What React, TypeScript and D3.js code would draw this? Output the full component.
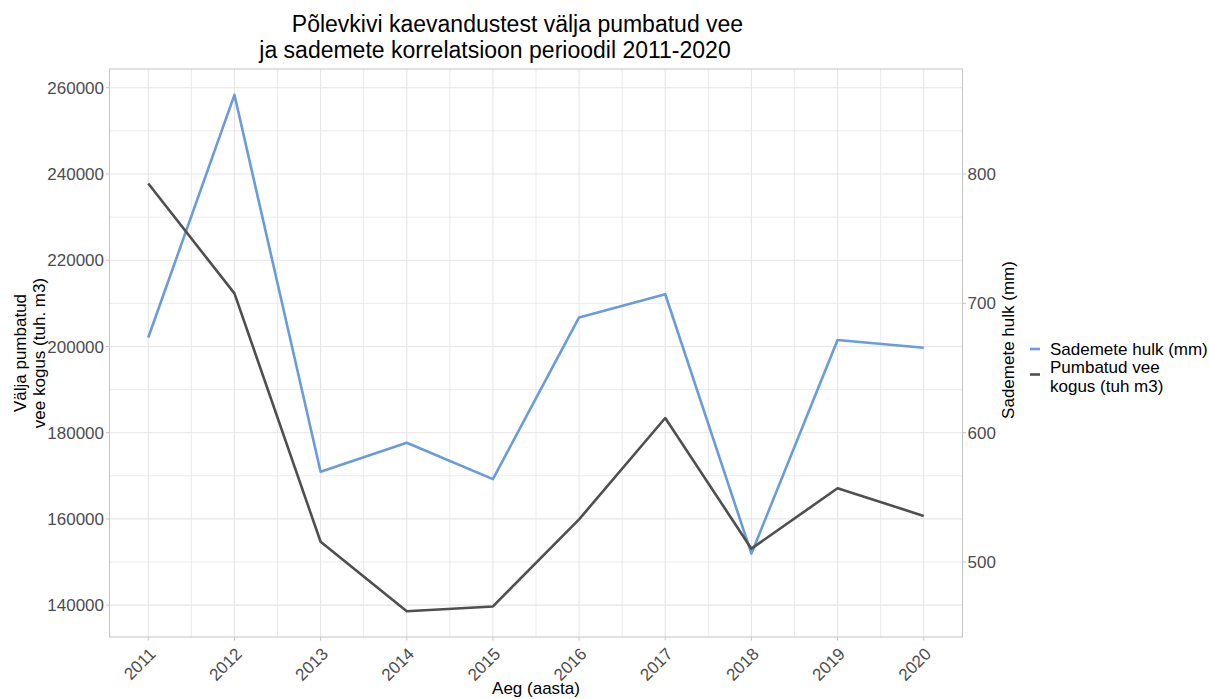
import React from "react";
import * as d3 from "d3";

const years: number[] = [2011, 2012, 2013, 2014, 2015, 2016, 2017, 2018, 2019, 2020];
const waterPumped: number[] = [237800, 212300, 154700, 138600, 139700, 159900, 183400, 153100, 167100, 160700];
const precipitation: number[] = [673.6, 861.2, 569.8, 592.2, 564.1, 689.1, 707.0, 506.5, 671.6, 665.7];
const leftTicks: number[] = [140000, 160000, 180000, 200000, 220000, 240000, 260000];
const rightTicks: number[] = [500, 600, 700, 800];
const secScale = 300;

const titleLines = ["Põlevkivi kaevandustest välja pumbatud vee", "ja sademete korrelatsioon perioodil 2011-2020"];
const legendLabels = ["Sademete hulk (mm)", "Pumbatud vee", "kogus (tuh m3)"];

const W = 1209;
const H = 699;
const M = { left: 109.5, right: 962.5, top: 69, bottom: 637 };
const FONT = "'Liberation Sans', Arial, sans-serif";
const BLUE = "#6a9bdb";
const DARK = "#4f4f4f";
const GRID = "#e6e6e6";
const BORDER = "#c4c4c4";

export default function App() {
  const x = d3
    .scaleLinear()
    .domain([years[0] - 0.45, years[years.length - 1] + 0.45])
    .range([M.left, M.right]);

  const all = [...waterPumped, ...precipitation.map((v) => v * secScale)];
  const [mn, mx] = d3.extent(all) as [number, number];
  const pad = (mx - mn) * 0.05;
  const y = d3.scaleLinear().domain([mn - pad, mx + pad]).range([M.bottom, M.top]);

  const majorY = leftTicks;
  const minorY: number[] = [];
  for (let v = 130000; v <= 270000; v += 20000) {
    if (v > y.domain()[0] && v < y.domain()[1]) minorY.push(v);
  }
  const minorX = years.slice(0, -1).map((yr) => yr + 0.5);

  const line = d3
    .line<number>()
    .x((_, i) => x(years[i]))
    .y((d) => y(d));

  const blueData = precipitation.map((v) => v * secScale);

  return (
    <div style={{ position: "absolute", left: 0, top: 0 }}>
      <svg width={W} height={H} style={{ display: "block", background: "#fff" }} fontFamily={FONT}>
        {/* Title */}
        <text x={517.5} y={31.5} textAnchor="middle" fontSize={23} fill="#000">
          {titleLines[0]}
        </text>
        <text x={495} y={57.5} textAnchor="middle" fontSize={23} fill="#000">
          {titleLines[1]}
        </text>

        {/* Minor grid */}
        {minorY.map((v) => (
          <line key={"my" + v} x1={M.left} x2={M.right} y1={y(v)} y2={y(v)} stroke={GRID} strokeWidth={0.8} />
        ))}
        {minorX.map((v) => (
          <line key={"mx" + v} x1={x(v)} x2={x(v)} y1={M.top} y2={M.bottom} stroke={GRID} strokeWidth={0.8} />
        ))}
        {/* Major grid */}
        {majorY.map((v) => (
          <line key={"gy" + v} x1={M.left} x2={M.right} y1={y(v)} y2={y(v)} stroke={GRID} strokeWidth={1.1} />
        ))}
        {years.map((v) => (
          <line key={"gx" + v} x1={x(v)} x2={x(v)} y1={M.top} y2={M.bottom} stroke={GRID} strokeWidth={1.1} />
        ))}

        {/* Lines */}
        <path d={line(blueData) || ""} fill="none" stroke={BLUE} strokeWidth={2.6} strokeLinejoin="round" />
        <path d={line(waterPumped) || ""} fill="none" stroke={DARK} strokeWidth={2.6} strokeLinejoin="round" />

        {/* Panel border */}
        <rect x={M.left} y={M.top} width={M.right - M.left} height={M.bottom - M.top} fill="none" stroke={BORDER} strokeWidth={1} />

        {/* Left axis */}
        {leftTicks.map((v) => (
          <g key={"lt" + v}>
            <line x1={M.left - 3.5} x2={M.left} y1={y(v)} y2={y(v)} stroke={BORDER} strokeWidth={1} />
            <text x={M.left - 5.5} y={y(v)} dy="0.36em" textAnchor="end" fontSize={17} fill="#4d4d4d">
              {v}
            </text>
          </g>
        ))}
        {/* Right axis */}
        {rightTicks.map((v) => (
          <g key={"rt" + v}>
            <line x1={M.right} x2={M.right + 3.5} y1={y(v * secScale)} y2={y(v * secScale)} stroke={BORDER} strokeWidth={1} />
            <text x={M.right + 5} y={y(v * secScale)} dy="0.36em" textAnchor="start" fontSize={17} fill="#4d4d4d">
              {v}
            </text>
          </g>
        ))}
        {/* Bottom axis */}
        {years.map((v) => (
          <g key={"bt" + v}>
            <line x1={x(v)} x2={x(v)} y1={M.bottom} y2={M.bottom + 3.5} stroke={BORDER} strokeWidth={1} />
            <text
              transform={`translate(${x(v) + 8.5},${655}) rotate(-45)`}
              textAnchor="end"
              fontSize={17}
              fill="#4d4d4d"
            >
              {v}
            </text>
          </g>
        ))}

        {/* Axis titles */}
        <text x={(M.left + M.right) / 2} y={694} textAnchor="middle" fontSize={17} fill="#000">
          Aeg (aasta)
        </text>
        <text transform={`translate(26,${(M.top + M.bottom) / 2}) rotate(-90)`} textAnchor="middle" fontSize={17} fill="#000">
          Välja pumbatud
        </text>
        <text transform={`translate(44.5,${(M.top + M.bottom) / 2}) rotate(-90)`} textAnchor="middle" fontSize={17} fill="#000">
          vee kogus (tuh. m3)
        </text>
        <text transform={`translate(1014,340) rotate(-90)`} textAnchor="middle" fontSize={17} fill="#000">
          Sademete hulk (mm)
        </text>

        {/* Legend */}
        <line x1={1030} x2={1040} y1={349} y2={349} stroke={BLUE} strokeWidth={2.6} />
        <text x={1050} y={354.5} fontSize={17} fill="#000">
          {legendLabels[0]}
        </text>
        <line x1={1030} x2={1040} y1={374.5} y2={374.5} stroke={DARK} strokeWidth={2.6} />
        <text x={1050} y={373} fontSize={17} fill="#000">
          {legendLabels[1]}
        </text>
        <text x={1050} y={392} fontSize={17} fill="#000">
          {legendLabels[2]}
        </text>
      </svg>
    </div>
  );
}
